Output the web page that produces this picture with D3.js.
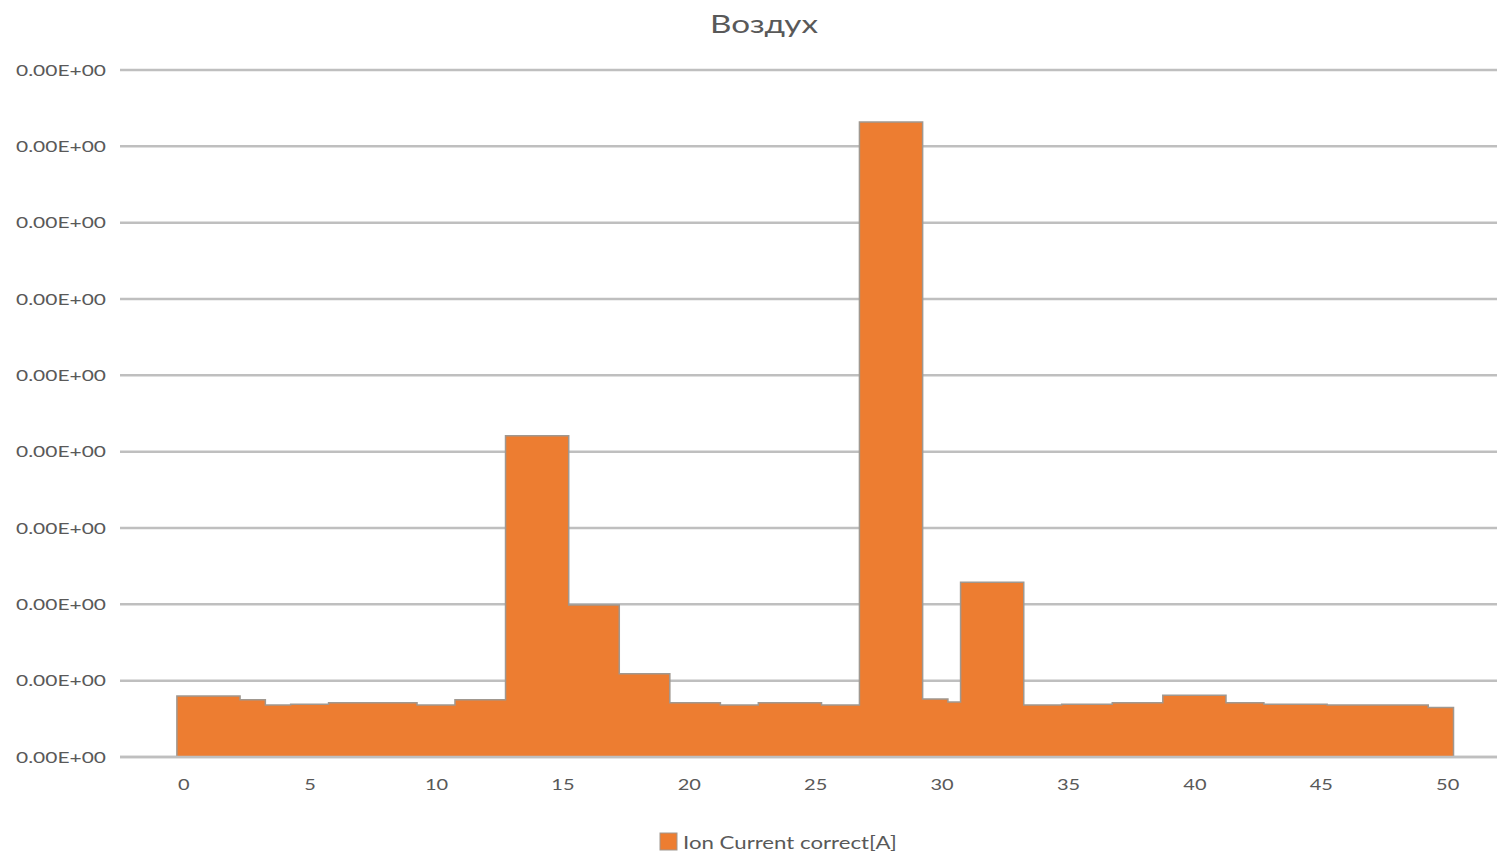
<!DOCTYPE html>
<html>
<head>
<meta charset="utf-8">
<script src="https://cdn.jsdelivr.net/npm/d3@7"></script>
<style>
  html, body { margin: 0; padding: 0; background: #fff; }
  svg { display: block; }
</style>
</head>
<body>
<svg id="chart" width="1499" height="855"></svg>
<script>
// Mass spectrum of air: ion current per mass step (arbitrary units)
const title = "Воздух";
const seriesName = "Ion Current correct[A]";

// Column edges along the mass axis and the ion current of each column
const edges = [-0.25, 2.25, 3.25, 4.25, 5.75, 9.25, 10.75, 12.75, 15.25, 17.25, 19.25,
               21.25, 22.75, 25.25, 26.75, 29.25, 30.25, 30.75, 33.25, 34.75, 36.75,
               38.75, 41.25, 42.75, 45.25, 46.75, 49.25, 50.25];
const values = [0.80, 0.75, 0.68, 0.69, 0.71, 0.68, 0.75, 4.21, 1.99, 1.09,
                0.71, 0.68, 0.71, 0.68, 8.32, 0.76, 0.72, 2.29, 0.68, 0.69,
                0.71, 0.81, 0.71, 0.69, 0.68, 0.68, 0.65];

const xTicks = [0, 5, 10, 15, 20, 25, 30, 35, 40, 45, 50];
const yTicks = [0, 1, 2, 3, 4, 5, 6, 7, 8, 9];
const yTickLabels = ["0.00E+00", "0.00E+00", "0.00E+00", "0.00E+00", "0.00E+00",
                     "0.00E+00", "0.00E+00", "0.00E+00", "0.00E+00", "0.00E+00"];

const svg = d3.select("#chart");
const plot = { left: 120, right: 1497, top: 70, bottom: 757 };

const x = d3.scaleLinear().domain([-2.5, 51.97]).range([plot.left, plot.right]);
const y = d3.scaleLinear().domain([0, 9]).range([plot.bottom, plot.top]);

const font = "Lato, 'Open Sans', sans-serif";
const textColor = "#595959";

// Widen glyphs horizontally to get the broad lettering of the chart
function widen(sel, factor) {
  sel.each(function () {
    const w = this.getComputedTextLength();
    d3.select(this)
      .attr("textLength", w * factor)
      .attr("lengthAdjust", "spacingAndGlyphs");
  });
}

// Title
svg.append("text")
  .attr("x", 764).attr("y", 33)
  .attr("text-anchor", "middle")
  .attr("font-family", font).attr("font-size", 25)
  .attr("fill", textColor)
  .text(title)
  .call(widen, 1.33);

// Horizontal gridlines
svg.append("g").selectAll("line")
  .data(yTicks)
  .join("line")
  .attr("x1", plot.left).attr("x2", plot.right)
  .attr("y1", d => y(d)).attr("y2", d => y(d))
  .attr("stroke", "#bfbfbf").attr("stroke-width", 2.5);

// Y axis labels
const yAxis = d3.axisLeft(y)
  .tickValues(yTicks)
  .tickSize(0)
  .tickPadding(0)
  .tickFormat((d, i) => yTickLabels[i]);
const gy = svg.append("g")
  .attr("transform", `translate(${plot.left - 14},0)`)
  .call(yAxis);
gy.select(".domain").remove();
gy.selectAll("text")
  .attr("font-family", font).attr("font-size", 16)
  .attr("fill", textColor)
  .call(widen, 1.31);

// Stepped columns
const cols = values.map((v, i) => ({ x0: edges[i], x1: edges[i + 1], v }));
const path = d3.path();
path.moveTo(x(cols[0].x0), y(0));
cols.forEach(c => {
  path.lineTo(x(c.x0), y(c.v));
  path.lineTo(x(c.x1), y(c.v));
});
path.lineTo(x(cols[cols.length - 1].x1), y(0));
path.closePath();

svg.append("path")
  .attr("d", path.toString())
  .attr("fill", "#ed7d31")
  .attr("stroke", "#a09890")
  .attr("stroke-width", 1.5)
  .attr("stroke-linejoin", "miter");

// Baseline drawn over the columns
svg.append("line")
  .attr("x1", plot.left).attr("x2", plot.right)
  .attr("y1", y(0)).attr("y2", y(0))
  .attr("stroke", "#bfbfbf").attr("stroke-width", 2.5);

// X axis labels
const xAxis = d3.axisBottom(x)
  .tickValues(xTicks)
  .tickSize(0)
  .tickPadding(0)
  .tickFormat(d3.format("d"));
const gx = svg.append("g")
  .attr("transform", `translate(0,${plot.bottom + 22})`)
  .call(xAxis);
gx.select(".domain").remove();
gx.selectAll("text")
  .attr("font-family", font).attr("font-size", 16)
  .attr("fill", textColor)
  .call(widen, 1.25);

// Legend
const legend = svg.append("g").attr("transform", "translate(660,833)");
legend.append("rect")
  .attr("width", 17).attr("height", 17)
  .attr("fill", "#ed7d31").attr("stroke", "#a09890").attr("stroke-width", 1);
legend.append("text")
  .attr("x", 23).attr("y", 16)
  .attr("font-family", font).attr("font-size", 17.5)
  .attr("fill", textColor)
  .text(seriesName)
  .call(widen, 1.27);
</script>
</body>
</html>
